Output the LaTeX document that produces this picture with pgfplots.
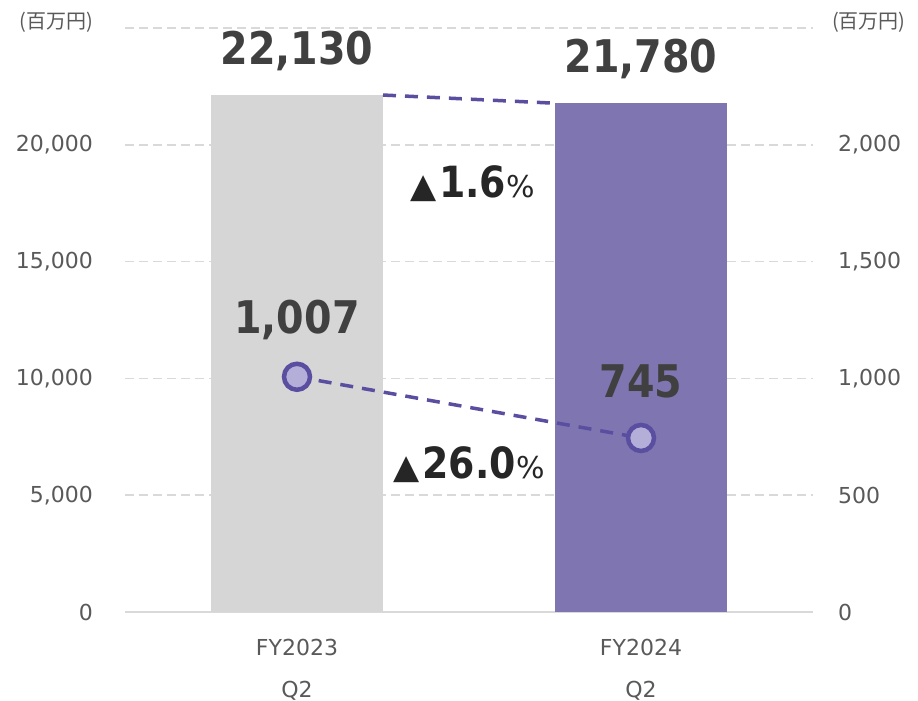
\documentclass[border=0pt]{standalone}
\usepackage{fontspec}
\setmainfont{DejaVu Sans}
\newfontfamily\cjk{Noto Sans CJK JP}
\newfontfamily\bignum{DejaVu Sans}[FakeStretch=0.88]
\usepackage{pgfplots}
\pgfplotsset{compat=1.18}

\definecolor{bargray}{HTML}{D6D6D6}
\definecolor{barpurple}{HTML}{7E75B1}
\definecolor{linepurple}{HTML}{5A4EA0}
\definecolor{markfill}{HTML}{B3AFD9}
\definecolor{gridgray}{HTML}{D9D9D9}
\definecolor{labgray}{HTML}{595959}
\definecolor{numgray}{HTML}{404040}
\definecolor{pctblack}{HTML}{262626}

\tikzset{
  bignum/.style={font=\bignum\bfseries\fontsize{45}{50}\selectfont, text=numgray, inner sep=0pt},
  pct/.style={text=pctblack, inner sep=0pt},
}
\newcommand{\pct}[1]{{\fontsize{34}{34}\selectfont ▲}\hspace{3pt}{\bignum\bfseries\fontsize{43}{43}\selectfont #1}{\fontsize{30}{30}\selectfont\%}}

\pgfplotsset{
  common/.style={
    at={(0,0)}, anchor=south west,
    scale only axis, width=688pt, height=584pt,
    xmin=-0.5, xmax=1.5,
    major tick length=0pt,
    /pgf/number format/1000 sep={,},
    /pgf/number format/assume math mode=true,
    scaled y ticks=false,
    clip=false,
  }
}

\begin{document}
\begin{tikzpicture}
\useasboundingbox (-125pt,-89pt) rectangle (793pt,612pt);

% left axis: sales bars
\begin{axis}[
  common,
  ymin=0, ymax=25000,
  xtick={0,1},
  xticklabels={FY2023\\Q2, FY2024\\Q2},
  xticklabel style={align=center, anchor=north, inner sep=0pt, yshift=-27pt,
    font=\fontsize{22}{42}\selectfont, text=labgray},
  ytick={0,5000,...,20000},
  extra y ticks={25000}, extra y tick labels={},
  ymajorgrids,
  grid style={gridgray, line width=1.5pt, dash pattern=on 9pt off 5pt},
  extra y tick style={grid=major},
  yticklabel style={anchor=east, inner sep=0pt, xshift=-32pt,
    font=\fontsize{22}{26}\selectfont, text=labgray},
  axis x line*=bottom, axis y line*=left,
  y axis line style={draw=none},
  x axis line style={draw=gridgray, line width=1.5pt},
]
\addplot[ybar, bar width=0.5, bar shift=0pt, fill=bargray, draw=none]
  coordinates {(0,22130)};
\addplot[ybar, bar width=0.5, bar shift=0pt, fill=barpurple, draw=none]
  coordinates {(1,21780)};
\addplot[linepurple, line width=3.5pt, dash pattern=on 13pt off 9pt]
  coordinates {(0.25,22130)(0.75,21780)};

\node[bignum] at (axis cs:0,24017) {22,130};
\node[bignum] at (axis cs:1,23675) {21,780};
\node[bignum] at (axis cs:0,12479) {1,007};
\node[bignum] at (axis cs:1,9872) {745};
\node[pct] at (axis cs:0.51,18333) {\pct{1.6}};
\node[pct] at (axis cs:0.50,6325) {\pct{26.0}};
\end{axis}

% right axis: operating profit line
\begin{axis}[
  common,
  ymin=0, ymax=2500,
  hide x axis,
  axis y line*=right,
  y axis line style={draw=none},
  ytick={0,500,...,2000},
  yticklabel style={anchor=west, inner sep=0pt, xshift=25pt,
    font=\fontsize{22}{26}\selectfont, text=labgray},
]
\addplot[linepurple, line width=3.5pt, dash pattern=on 13pt off 9pt,
  mark=*, mark size=13pt,
  mark options={solid, fill=markfill, draw=linepurple, line width=4.5pt}]
  coordinates {(0,1007)(1,745)};
\end{axis}

\node[anchor=east, inner sep=0pt, text=labgray, font=\cjk\fontsize{20}{22}\selectfont]
  at (-32pt,590pt) {(百万円)};
\node[anchor=west, inner sep=0pt, text=labgray, font=\cjk\fontsize{20}{22}\selectfont]
  at (707pt,590pt) {(百万円)};
\end{tikzpicture}
\end{document}
